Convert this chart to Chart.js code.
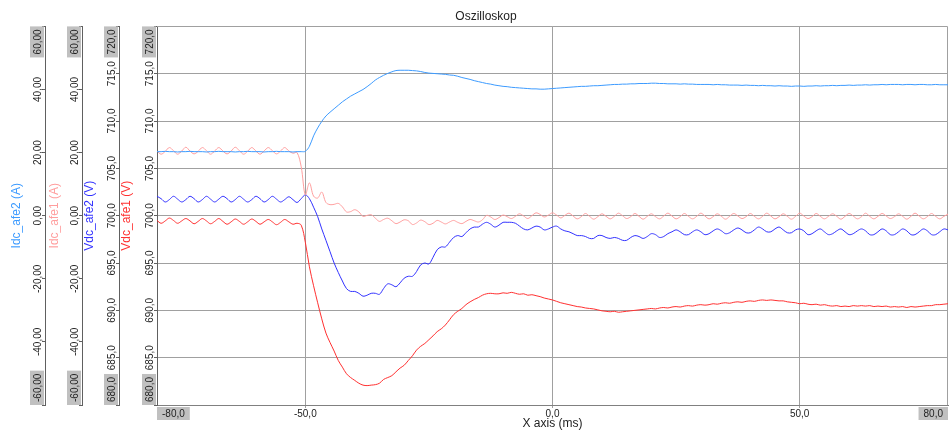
<!DOCTYPE html>
<html>
<head>
<meta charset="utf-8">
<title>Oszilloskop</title>
<script src="https://cdn.jsdelivr.net/npm/chart.js@4.4.0/dist/chart.umd.min.js"></script>
<style>
  html, body { margin: 0; padding: 0; background: #ffffff; }
  canvas { display: block; }
</style>
</head>
<body>
<canvas id="scope" width="949" height="435"></canvas>
<script>
// sample times in ms (one sample every 5/6 ms)
const time = [
  -80, -79.17, -78.33, -77.5, -76.67, -75.83, -75, -74.17, -73.33, -72.5, -71.67, -70.83,
  -70, -69.17, -68.33, -67.5, -66.67, -65.83, -65, -64.17, -63.33, -62.5, -61.67, -60.83,
  -60, -59.17, -58.33, -57.5, -56.67, -55.83, -55, -54.17, -53.33, -52.5, -51.67, -50.83,
  -50, -49.17, -48.33, -47.5, -46.67, -45.83, -45, -44.17, -43.33, -42.5, -41.67, -40.83,
  -40, -39.17, -38.33, -37.5, -36.67, -35.83, -35, -34.17, -33.33, -32.5, -31.67, -30.83,
  -30, -29.17, -28.33, -27.5, -26.67, -25.83, -25, -24.17, -23.33, -22.5, -21.67, -20.83,
  -20, -19.17, -18.33, -17.5, -16.67, -15.83, -15, -14.17, -13.33, -12.5, -11.67, -10.83,
  -10, -9.17, -8.33, -7.5, -6.67, -5.83, -5, -4.17, -3.33, -2.5, -1.67, -0.83,
  0, 0.83, 1.67, 2.5, 3.33, 4.17, 5, 5.83, 6.67, 7.5, 8.33, 9.17,
  10, 10.83, 11.67, 12.5, 13.33, 14.17, 15, 15.83, 16.67, 17.5, 18.33, 19.17,
  20, 20.83, 21.67, 22.5, 23.33, 24.17, 25, 25.83, 26.67, 27.5, 28.33, 29.17,
  30, 30.83, 31.67, 32.5, 33.33, 34.17, 35, 35.83, 36.67, 37.5, 38.33, 39.17,
  40, 40.83, 41.67, 42.5, 43.33, 44.17, 45, 45.83, 46.67, 47.5, 48.33, 49.17,
  50, 50.83, 51.67, 52.5, 53.33, 54.17, 55, 55.83, 56.67, 57.5, 58.33, 59.17,
  60, 60.83, 61.67, 62.5, 63.33, 64.17, 65, 65.83, 66.67, 67.5, 68.33, 69.17,
  70, 70.83, 71.67, 72.5, 73.33, 74.17, 75, 75.83, 76.67, 77.5, 78.33, 79.17,
  80
];

// Idc_afe2 (A)
const idcAfe2 = [
  20.3, 20.3, 20.4, 20.3, 20.3, 20.2, 20.3, 20.3, 20.4, 20.3, 20.3, 20.3,
  20.2, 20.3, 20.3, 20.4, 20.3, 20.3, 20.3, 20.2, 20.3, 20.3, 20.4, 20.3,
  20.3, 20.3, 20.2, 20.3, 20.3, 20.4, 20.3, 20.3, 20.3, 20.2, 20.3, 20.3,
  20.4, 22.0, 25.3, 27.8, 29.9, 31.6, 32.8, 33.9, 35.0, 36.1, 37.0, 37.9,
  38.6, 39.3, 40.0, 40.9, 41.9, 43.0, 43.8, 44.5, 45.1, 45.6, 46.0, 46.1,
  46.1, 46.1, 46.0, 45.9, 45.7, 45.4, 45.2, 45.1, 45.0, 44.9, 44.8, 44.6,
  44.5, 44.2, 43.8, 43.5, 43.2, 42.8, 42.5, 42.2, 41.9, 41.7, 41.4, 41.2,
  41.0, 40.9, 40.7, 40.6, 40.5, 40.4, 40.3, 40.2, 40.2, 40.1, 40.1, 40.2,
  40.3, 40.4, 40.5, 40.6, 40.7, 40.8, 40.9, 41.0, 41.0, 41.1, 41.2, 41.2,
  41.3, 41.4, 41.5, 41.6, 41.6, 41.7, 41.7, 41.8, 41.8, 41.9, 41.9, 41.9,
  42.0, 42.0, 41.9, 41.9, 41.8, 41.8, 41.8, 41.7, 41.8, 41.7, 41.7, 41.6,
  41.6, 41.6, 41.6, 41.5, 41.6, 41.5, 41.5, 41.4, 41.4, 41.4, 41.3, 41.4,
  41.3, 41.3, 41.2, 41.3, 41.2, 41.2, 41.1, 41.2, 41.1, 41.1, 41.0, 41.1,
  41.1, 41.0, 41.1, 41.1, 41.2, 41.1, 41.2, 41.2, 41.3, 41.2, 41.3, 41.3,
  41.4, 41.3, 41.4, 41.4, 41.5, 41.4, 41.5, 41.5, 41.6, 41.5, 41.6, 41.6,
  41.6, 41.5, 41.6, 41.6, 41.5, 41.6, 41.6, 41.5, 41.5, 41.6, 41.5, 41.5,
  41.5
];

// Idc_afe1 (A)
const idcAfe1 = [
  20.5, 19.5, 20.4, 21.6, 20.6, 19.5, 20.5, 21.7, 20.5, 19.6, 20.4, 21.6,
  20.6, 19.5, 20.5, 21.6, 20.5, 19.6, 20.5, 21.7, 20.6, 19.5, 20.4, 21.6,
  20.5, 19.5, 20.5, 21.6, 20.6, 19.6, 20.5, 21.6, 20.5, 19.8, 20.0, 15.5,
  6.6, 10.4, 6.2, 5.6, 7.5, 4.2, 3.5, 3.6, 3.9, 2.8, 1.2, 1.3,
  1.9, 1.2, -0.2, 0.1, 0.3, -0.8, -1.8, -1.2, -0.8, -1.6, -2.5, -2.0,
  -1.3, -1.6, -2.8, -2.3, -1.4, -1.9, -2.8, -2.4, -1.5, -2.0, -2.6, -2.0,
  -1.5, -2.1, -2.5, -1.8, -1.2, -1.6, -2.0, -1.3, 0.1, -0.4, -1.2, -0.6,
  0.2, -0.3, -0.9, -0.2, 0.6, -0.1, -0.9, 0.0, 0.9, 0.4, -0.4, 0.2,
  0.9, 0.2, -0.7, 0.1, 0.8, -0.1, -1.0, -0.3, 0.7, -0.2, -1.1, -0.3,
  0.6, -0.2, -1.0, -0.2, 0.8, 0.0, -0.9, -0.3, 0.7, -0.2, -1.1, -0.2,
  0.6, -0.3, -1.0, -0.1, 0.8, -0.1, -1.0, -0.3, 0.7, -0.2, -1.0, -0.2,
  0.8, -0.1, -1.0, -0.3, 0.6, -0.2, -1.1, -0.2, 0.7, -0.1, -0.9, -0.3,
  0.7, -0.2, -1.0, -0.2, 0.8, -0.1, -1.0, -0.3, 0.6, -0.2, -1.1, -0.2,
  0.8, -0.1, -0.9, -0.3, 0.7, -0.2, -1.0, -0.2, 0.6, -0.2, -1.1, -0.2,
  0.7, -0.1, -1.0, -0.3, 0.8, -0.2, -1.0, -0.2, 0.7, -0.1, -0.9, -0.3,
  0.6, -0.2, -1.1, -0.2, 0.8, -0.1, -1.0, -0.3, 0.7, -0.2, -1.0, -0.2,
  0.5
];

// Vdc_afe2 (V)
const vdcAfe2 = [
  702.05, 701.8, 701.45, 701.7, 702.05, 701.75, 701.45, 701.7, 702.05, 701.8, 701.45, 701.7,
  702.05, 701.75, 701.45, 701.75, 702.05, 701.8, 701.45, 701.7, 702.05, 701.75, 701.45, 701.7,
  702.05, 701.8, 701.45, 701.7, 702.05, 701.75, 701.45, 701.7, 702.0, 701.7, 701.4, 701.8,
  702.2, 701.8, 700.9, 699.9, 698.6, 697.4, 696.2, 695.0, 694.0, 693.1, 692.3, 692.0,
  692.0, 691.8, 691.5, 691.6, 691.8, 691.8, 691.7, 692.3, 692.8, 692.7, 692.5, 692.9,
  693.4, 693.6, 693.6, 694.1, 694.8, 695.0, 694.9, 695.6, 696.4, 696.7, 696.7, 697.2,
  697.7, 697.9, 697.8, 698.2, 698.6, 698.8, 698.8, 699.1, 699.3, 699.1, 698.8, 699.0,
  699.3, 699.3, 699.3, 699.2, 698.9, 698.6, 698.5, 698.7, 698.9, 698.8, 698.5, 698.6,
  698.8, 698.9, 698.6, 698.4, 698.3, 698.1, 697.9, 697.9, 697.8, 697.6, 697.6, 697.9,
  697.9, 697.7, 697.6, 697.7, 697.6, 697.4, 697.4, 697.7, 697.9, 697.8, 697.6, 697.8,
  698.1, 698.0, 697.7, 697.8, 698.1, 698.3, 698.5, 698.3, 698.0, 698.0, 698.3, 698.5,
  698.3, 698.0, 698.1, 698.4, 698.6, 698.4, 698.1, 698.2, 698.5, 698.7, 698.5, 698.2,
  698.2, 698.5, 698.8, 698.6, 698.3, 698.3, 698.6, 698.8, 698.5, 698.2, 698.2, 698.5,
  698.6, 698.4, 698.0, 698.1, 698.4, 698.6, 698.3, 698.0, 698.1, 698.4, 698.6, 698.3,
  698.0, 698.1, 698.4, 698.6, 698.4, 698.0, 698.0, 698.3, 698.6, 698.4, 698.0, 698.0,
  698.3, 698.6, 698.4, 698.0, 698.0, 698.3, 698.6, 698.4, 698.0, 698.0, 698.3, 698.6,
  698.5
];

// Vdc_afe1 (V)
const vdcAfe1 = [
  699.5, 699.2, 699.45, 699.75, 699.5, 699.2, 699.45, 699.7, 699.45, 699.15, 699.4, 699.7,
  699.45, 699.15, 699.4, 699.7, 699.4, 699.1, 699.35, 699.65, 699.4, 699.1, 699.35, 699.65,
  699.4, 699.1, 699.35, 699.6, 699.35, 699.05, 699.3, 699.6, 699.35, 699.1, 699.2, 699.0,
  697.2, 694.6, 692.6, 690.8, 689.1, 687.6, 686.6, 685.7, 684.7, 684.0, 683.3, 682.9,
  682.6, 682.3, 682.1, 682.05, 682.1, 682.15, 682.3, 682.7, 682.9, 683.1, 683.5, 683.9,
  684.2, 684.7, 685.2, 685.8, 686.2, 686.5, 686.9, 687.3, 687.75, 688.05, 688.45, 689.0,
  689.55, 689.9, 690.2, 690.6, 690.9, 691.15, 691.35, 691.6, 691.75, 691.8, 691.75, 691.75,
  691.85, 691.8, 691.9, 691.8, 691.7, 691.75, 691.6, 691.65, 691.55, 691.45, 691.3, 691.2,
  691.1, 690.95, 690.8, 690.7, 690.6, 690.5, 690.4, 690.35, 690.25, 690.2, 690.15, 690.05,
  689.95, 689.9, 689.85, 689.9, 689.8, 689.85, 689.9, 689.95, 690.0, 690.05, 690.1, 690.15,
  690.2, 690.15, 690.25, 690.3, 690.25, 690.35, 690.4, 690.35, 690.45, 690.5, 690.45, 690.55,
  690.6, 690.55, 690.6, 690.7, 690.65, 690.75, 690.8, 690.75, 690.85, 690.9, 690.85, 690.95,
  691.0, 690.95, 691.05, 691.1, 691.05, 691.1, 691.05, 691.0, 691.0, 690.9, 690.85, 690.8,
  690.7, 690.75, 690.65, 690.6, 690.65, 690.55, 690.6, 690.5, 690.45, 690.5, 690.4, 690.45,
  690.4, 690.5, 690.45, 690.5, 690.45, 690.5, 690.4, 690.45, 690.4, 690.45, 690.35, 690.4,
  690.35, 690.4, 690.3, 690.4, 690.35, 690.4, 690.45, 690.5, 690.5, 690.6, 690.6, 690.65,
  690.7
];

const xTicks = [-80, -50, 0, 50, 80];
const currentTicks = [-60, -40, -20, 0, 20, 40, 60];
const voltageTicks = [680, 685, 690, 695, 700, 705, 710, 715, 720];

const FONT = '"Liberation Sans", Arial, sans-serif';
const AXIS_INK = '#606060';
const GRID = '#a0a0a0';
const EDGE_BOX = '#c0c0c0';

const fmt = (v, digits) => v.toFixed(digits).replace('.', ',');

function leftAxis(opts) {
  return {
    type: 'linear',
    position: 'left',
    weight: opts.weight,
    min: opts.ticks[0],
    max: opts.ticks[opts.ticks.length - 1],
    afterBuildTicks: s => { s.ticks = opts.ticks.map(v => ({ value: v })); },
    afterFit: s => { s.width = opts.width; },
    ticks: { display: false },
    grid: {
      drawOnChartArea: !!opts.grid,
      color: c => (c.tick && (c.tick.value === opts.ticks[0] || c.tick.value === opts.ticks[opts.ticks.length - 1])) ? 'rgba(0,0,0,0)' : GRID,
      tickColor: AXIS_INK,
      tickLength: 3
    },
    border: { color: AXIS_INK },
    title: {
      display: true,
      text: opts.title,
      color: opts.color,
      font: { family: FONT, size: 12 },
      padding: { top: opts.titlePad, bottom: 0 }
    },
    // used by the label plugin
    labelDigits: opts.digits,
    labelValues: opts.ticks
  };
}

// tick labels: rotated on the y axes, grey boxes on the first and last one
const tickLabels = {
  id: 'tickLabels',
  afterDraw(chart) {
    const ctx = chart.ctx;
    ctx.save();
    ctx.font = '10px ' + FONT;
    ctx.textBaseline = 'middle';
    ctx.textAlign = 'center';

    for (const id of ['yI2', 'yI1', 'yV2', 'yV1']) {
      const s = chart.scales[id];
      const vals = s.options.labelValues;
      vals.forEach((v, i) => {
        const txt = fmt(v, s.options.labelDigits);
        const w = ctx.measureText(txt).width;
        let cy = s.getPixelForValue(v);
        const edge = i === 0 || i === vals.length - 1;
        if (i === 0) cy = s.bottom - w / 2 - 3;
        if (i === vals.length - 1) cy = s.top + w / 2 + 3;
        const cx = s.right - 8;
        if (edge) {
          ctx.fillStyle = EDGE_BOX;
          ctx.fillRect(s.right - 15, cy - w / 2 - 3, 14, w + 6);
        }
        ctx.save();
        ctx.translate(cx, cy);
        ctx.rotate(-Math.PI / 2);
        ctx.fillStyle = '#222222';
        ctx.fillText(txt, 0, 1);
        ctx.restore();
      });
    }

    const x = chart.scales.x;
    const ty = x.top + 8;
    xTicks.forEach((v, i) => {
      const txt = fmt(v, 1);
      const w = ctx.measureText(txt).width;
      let cx = x.getPixelForValue(v);
      if (i === 0) cx = x.left + w / 2 + 5;
      if (i === xTicks.length - 1) cx = x.right - w / 2 - 5;
      if (i === 0 || i === xTicks.length - 1) {
        ctx.fillStyle = EDGE_BOX;
        ctx.fillRect(cx - w / 2 - 5, ty - 6, w + 10, 13);
      }
      ctx.fillStyle = '#222222';
      ctx.fillText(txt, cx, ty + 1);
    });
    ctx.restore();
  }
};

// top and right edge of the plot
const frame = {
  id: 'frame',
  beforeDatasetsDraw(chart) {
    const { ctx, chartArea: a } = chart;
    ctx.save();
    ctx.strokeStyle = GRID;
    ctx.lineWidth = 1;
    ctx.beginPath();
    ctx.moveTo(a.left, Math.round(a.top) + 0.5);
    ctx.lineTo(a.right - 0.5, Math.round(a.top) + 0.5);
    ctx.lineTo(a.right - 0.5, a.bottom);
    ctx.stroke();
    ctx.restore();
  }
};

const line = (label, data, axis, color) => ({
  label, data, yAxisID: axis,
  borderColor: color, borderWidth: 1,
  pointRadius: 0, tension: 0.35, fill: false
});

new Chart(document.getElementById('scope'), {
  type: 'line',
  data: {
    labels: time,
    datasets: [
      line('Idc_afe2', idcAfe2, 'yI2', '#3d9bff'),
      line('Idc_afe1', idcAfe1, 'yI1', '#ff9e9e'),
      line('Vdc_afe2', vdcAfe2, 'yV2', '#3232ff'),
      line('Vdc_afe1', vdcAfe1, 'yV1', '#ff3030')
    ]
  },
  options: {
    responsive: false,
    animation: false,
    devicePixelRatio: 1,
    layout: { padding: { left: 24, right: 1, top: 0, bottom: 0 } },
    plugins: {
      legend: { display: false },
      tooltip: { enabled: false },
      title: {
        display: true,
        text: 'Oszilloskop',
        color: '#222222',
        font: { family: FONT, size: 12, weight: 'normal' },
        padding: { top: 9, bottom: 3 }
      }
    },
    scales: {
      x: {
        type: 'linear',
        min: -80,
        max: 80,
        afterBuildTicks: s => { s.ticks = xTicks.map(v => ({ value: v })); },
        afterFit: s => { s.height = 30; },
        ticks: { display: false },
        grid: {
          color: c => (c.tick && (c.tick.value === -80 || c.tick.value === 80)) ? 'rgba(0,0,0,0)' : GRID,
          tickColor: c => (c.tick && (c.tick.value === -80 || c.tick.value === 80)) ? 'rgba(0,0,0,0)' : GRID,
          tickLength: 3
        },
        border: { color: '#808080' },
        title: {
          display: true,
          text: 'X axis (ms)',
          color: '#222222',
          font: { family: FONT, size: 12 },
          padding: { top: 0, bottom: 4 }
        }
      },
      yI2: leftAxis({ title: 'Idc_afe2 (A)', color: '#3d9bff', ticks: currentTicks, digits: 2, weight: 4, width: 21, titlePad: -14.2 }),
      yI1: leftAxis({ title: 'Idc_afe1 (A)', color: '#ff9e9e', ticks: currentTicks, digits: 2, weight: 3, width: 37, titlePad: 2 }),
      yV2: leftAxis({ title: 'Vdc_afe2 (V)', color: '#3232ff', ticks: voltageTicks, digits: 1, weight: 2, width: 37, titlePad: 0 }),
      yV1: leftAxis({ title: 'Vdc_afe1 (V)', color: '#ff3030', ticks: voltageTicks, digits: 1, weight: 1, width: 38, titlePad: 0, grid: true })
    }
  },
  plugins: [frame, tickLabels]
});
</script>
</body>
</html>
